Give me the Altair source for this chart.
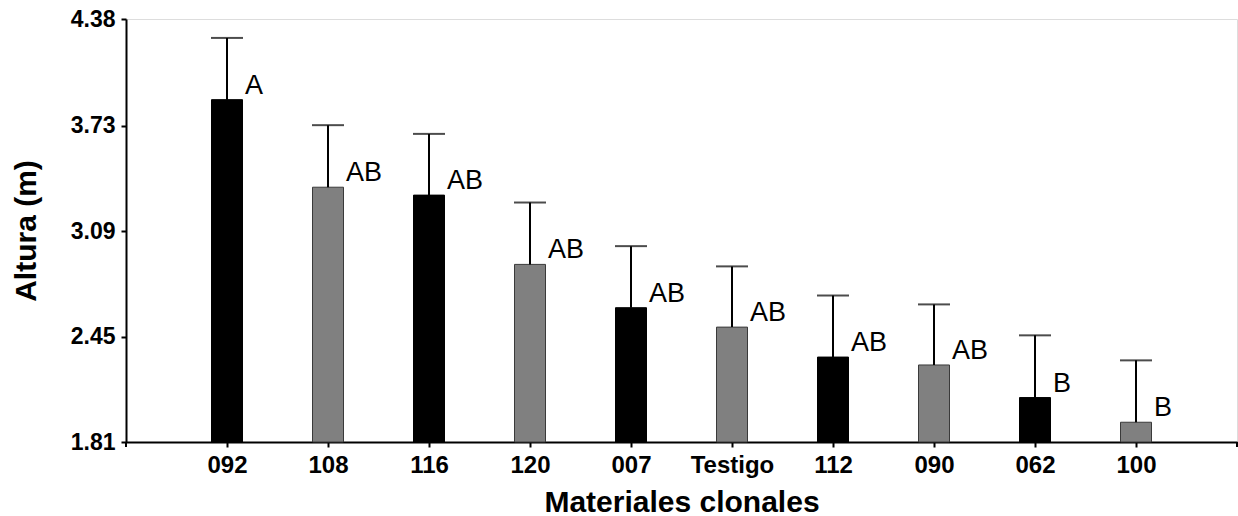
import altair as alt
import pandas as pd

categories = ["092", "108", "116", "120", "007", "Testigo", "112", "090", "062", "100"]
means = [3.89, 3.358, 3.31, 2.889, 2.626, 2.508, 2.326, 2.278, 2.08, 1.93]
upper = [4.265, 3.735, 3.682, 3.265, 3.0, 2.877, 2.70, 2.646, 2.458, 2.306]
letters = ["A", "AB", "AB", "AB", "AB", "AB", "AB", "AB", "B", "B"]
shade = ["black", "gray", "black", "gray", "black", "gray", "black", "gray", "black", "gray"]
y_ticks = [1.81, 2.45, 3.09, 3.73, 4.38]
y_min, y_max = 1.81, 4.38

df = pd.DataFrame({
    "cat": categories, "mean": means, "upper": upper,
    "letter": letters, "shade": shade, "base": [y_min] * len(categories),
})

W, H = 1111, 423
FONT = "Liberation Sans"

xscale = alt.Scale(type="point", padding=1)
x = alt.X("cat:N", sort=categories, scale=xscale,
          axis=alt.Axis(title="Materiales clonales", labelAngle=0,
                        labelFont=FONT, labelFontSize=24, labelFontWeight="bold",
                        labelColor="black", labelPadding=6,
                        titleFont=FONT, titleFontSize=30, titleFontWeight="bold",
                        titleColor="black", titlePadding=10,
                        domainColor="black", domainWidth=2,
                        tickColor="black", tickWidth=2, tickSize=5, grid=False))
xp = alt.X("cat:N", sort=categories, scale=xscale)
yscale = alt.Scale(domain=[y_min, y_max], zero=False, nice=False)
y = alt.Y("mean:Q", scale=yscale,
          axis=alt.Axis(title="Altura (m)", values=y_ticks, format=".2f",
                        labelFont=FONT, labelFontSize=23, labelFontWeight="bold",
                        labelColor="black", labelPadding=6,
                        titleFont=FONT, titleFontSize=30, titleFontWeight="bold",
                        titleColor="black", titlePadding=29,
                        domainColor="black", domainWidth=2,
                        tickColor="black", tickWidth=2, tickSize=5, grid=False))

base = alt.Chart(df)

bars = base.mark_bar(size=31, strokeWidth=1).encode(
    x=x, y=y, y2="base:Q",
    fill=alt.Fill("shade:N", scale=alt.Scale(domain=["black", "gray"], range=["#000000", "#808080"]), legend=None),
    stroke=alt.Stroke("shade:N", scale=alt.Scale(domain=["black", "gray"], range=["#000000", "#3a3a3a"]), legend=None),
)
err = base.mark_rule(color="black", strokeWidth=2).encode(
    x=xp, y=alt.Y("mean:Q", scale=yscale), y2="upper:Q")
caps = base.mark_tick(color="black", thickness=2, size=32, orient="horizontal").encode(
    x=xp, y=alt.Y("upper:Q", scale=yscale))
labels = base.mark_text(align="left", baseline="alphabetic", dx=18, dy=-6,
                        font=FONT, fontSize=27, color="black").encode(
    x=xp, y=alt.Y("mean:Q", scale=yscale), text="letter:N")
end_left = alt.Chart(df).mark_rule(color="black", strokeWidth=2).encode(
    x=alt.value(0), y=alt.value(H), y2=alt.value(H + 5))
end_right = alt.Chart(df).mark_rule(color="black", strokeWidth=2).encode(
    x=alt.value(W), y=alt.value(H), y2=alt.value(H + 5))

chart = alt.layer(bars, err, caps, labels, end_left, end_right).properties(
    width=W, height=H,
    padding={"left": 126, "top": 19, "right": 1, "bottom": 74},
    autosize=alt.AutoSizeParams(type="none"),
).configure_view(stroke=None).configure(background="white")

chart.save("out.html", embed_options={"renderer": "svg", "actions": False})
